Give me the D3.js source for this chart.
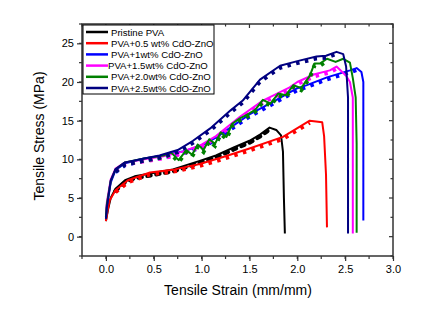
<!DOCTYPE html>
<html>
<head>
<meta charset="utf-8">
<script src="https://cdn.jsdelivr.net/npm/d3@7"></script>
<style>
  body { margin: 0; background: #fff; }
  svg text { font-family: "Liberation Sans", Arial, sans-serif; }
</style>
</head>
<body>
<div id="chart"></div>
<script>
// legend / series names
var seriesNames = ["Pristine PVA", "PVA+0.5 wt% CdO-ZnO", "PVA+1wt% CdO-ZnO",
                   "PVA+1.5wt% CdO-ZnO", "PVA+2.0wt% CdO-ZnO", "PVA+2.5wt% CdO-ZnO"];
var seriesColors = ["#000000", "#ff0000", "#0000ff", "#ff00ff", "#008000", "#000080"];

// strain / stress
var strainPristine = [0, 0.02, 0.05, 0.1, 0.2, 0.3, 0.48, 0.7, 0.98, 1.15, 1.33, 1.5, 1.61, 1.71, 1.78, 1.83, 1.85, 1.86, 1.87];
var stressPristine = [2.0, 3.4, 5.0, 6.2, 7.3, 7.8, 8.2, 8.7, 9.8, 10.5, 11.5, 12.4, 13.2, 14.1, 13.8, 13.1, 11.0, 5.0, 0.4];

var strain05 = [0, 0.02, 0.04, 0.1, 0.23, 0.46, 0.72, 0.98, 1.25, 1.5, 1.85, 2.13, 2.26, 2.28, 2.30, 2.31];
var stress05 = [2.0, 3.5, 4.7, 6.0, 7.3, 8.3, 8.7, 9.4, 10.4, 11.4, 12.9, 15.0, 14.8, 13.0, 8.0, 1.2];

var strain10 = [0, 0.01, 0.05, 0.1, 0.2, 0.4, 0.6, 0.8, 1.0, 1.15, 1.3, 1.5, 1.74, 2.0, 2.1, 2.31, 2.55, 2.62, 2.67, 2.69, 2.69];
var stress10 = [2.5, 4.0, 7.0, 8.6, 9.5, 10.1, 10.5, 11.0, 11.8, 12.8, 14.1, 15.8, 17.4, 19.2, 19.6, 20.6, 21.5, 21.8, 21.3, 20.0, 2.1];

var strain15 = [0, 0.01, 0.05, 0.1, 0.2, 0.4, 0.6, 0.8, 1.0, 1.15, 1.3, 1.4, 1.64, 1.92, 2.0, 2.18, 2.34, 2.41, 2.51, 2.55, 2.58, 2.58];
var stress15 = [3.0, 4.5, 7.4, 8.8, 9.6, 10.0, 10.4, 11.0, 11.9, 13.0, 14.5, 15.5, 17.6, 19.3, 20.0, 21.0, 21.5, 22.0, 20.8, 20.0, 18.0, 0.4];

var strain20 = [0, 0.01, 0.05, 0.1, 0.2, 0.4, 0.6, 0.68, 0.76, 0.84, 0.9, 0.96, 1.02, 1.08, 1.14, 1.2, 1.26, 1.32,
                1.4, 1.48, 1.56, 1.64, 1.72, 1.8, 1.88, 1.96, 2.04, 2.13, 2.18, 2.24, 2.31, 2.4, 2.48, 2.55, 2.58, 2.61, 2.62, 2.62];
var stress20 = [2.6, 4.2, 7.2, 8.7, 9.6, 10.1, 10.5, 10.9, 9.9, 11.2, 10.6, 11.9, 11.2, 12.6, 12.0, 13.5, 12.9, 14.6,
                15.3, 15.8, 16.4, 17.7, 17.2, 18.5, 18.3, 19.6, 19.2, 20.8, 22.4, 22.4, 23.0, 22.6, 23.0, 22.5, 20.5, 18.0, 12.0, 0.5];

var strain25 = [0, 0.01, 0.05, 0.1, 0.2, 0.4, 0.56, 0.75, 0.91, 1.09, 1.3, 1.43, 1.61, 1.82, 2.0, 2.2, 2.3, 2.41, 2.48, 2.51, 2.53, 2.53];
var stress25 = [2.3, 3.8, 7.2, 8.7, 9.6, 10.1, 10.5, 11.2, 12.4, 14.0, 16.3, 17.6, 20.3, 22.1, 22.7, 23.3, 23.4, 23.9, 23.6, 22.0, 18.0, 0.4];

var allStrain = [strainPristine, strain05, strain10, strain15, strain20, strain25];
var allStress = [stressPristine, stress05, stress10, stress15, stress20, stress25];

var xTicks = [0, 0.5, 1.0, 1.5, 2.0, 2.5, 3.0];
var yTicks = [0, 5, 10, 15, 20, 25];

function render() {
    var width = 426, height = 313;
    var pLeft = 82, pRight = 393, pTop = 24, pBottom = 256;

    var svg = d3.select("#chart").append("svg")
        .attr("width", width)
        .attr("height", height);

    var x = d3.scaleLinear().domain([-0.25, 3.0]).range([pLeft, pRight]);
    var y = d3.scaleLinear().domain([-2.5, 27.5]).range([pBottom, pTop]);

    //frame
    svg.append("rect")
        .attr("x", pLeft).attr("y", pTop)
        .attr("width", pRight - pLeft).attr("height", pBottom - pTop)
        .style("fill", "none").style("stroke", "#333").style("stroke-width", 1.5);

    // major + minor ticks
    var xMinor = d3.range(-0.25, 3.01, 0.25);
    var yMinor = d3.range(-2.5, 27.51, 2.5);

    var bottomAxis = d3.axisBottom(x).tickValues(xTicks).tickFormat(d3.format(".1f")).tickSize(5).tickPadding(4);
    var leftAxis = d3.axisLeft(y).tickValues(yTicks).tickFormat(d3.format("d")).tickSize(5).tickPadding(3);

    var gx = svg.append("g").attr("transform", "translate(0," + pBottom + ")").call(bottomAxis);
    var gy = svg.append("g").attr("transform", "translate(" + pLeft + ",0)").call(leftAxis);
    [gx, gy].forEach(function(g){
        g.select(".domain").remove();
        g.selectAll("line").style("stroke", "#333").style("stroke-width", 1.2);
        g.selectAll("text").style("font-size", "11px").style("fill", "#000")
            .style("font-family", "'Liberation Sans', Arial, sans-serif");
    });

    // minor outward ticks
    svg.append("g").selectAll("line").data(xMinor).enter().append("line")
        .attr("x1", function(d){ return x(d); }).attr("x2", function(d){ return x(d); })
        .attr("y1", pBottom).attr("y2", pBottom + 3)
        .style("stroke", "#333").style("stroke-width", 1.2);
    svg.append("g").selectAll("line").data(yMinor).enter().append("line")
        .attr("y1", function(d){ return y(d); }).attr("y2", function(d){ return y(d); })
        .attr("x1", pLeft).attr("x2", pLeft - 3)
        .style("stroke", "#333").style("stroke-width", 1.2);

    // mirrored inward ticks on top / right
    svg.append("g").selectAll("line").data(xMinor).enter().append("line")
        .attr("x1", function(d){ return x(d); }).attr("x2", function(d){ return x(d); })
        .attr("y1", pTop).attr("y2", function(d){ return pTop + (xTicks.indexOf(+d.toFixed(2)) >= 0 ? 4 : 2.5); })
        .style("stroke", "#333").style("stroke-width", 1.2);
    svg.append("g").selectAll("line").data(yMinor).enter().append("line")
        .attr("y1", function(d){ return y(d); }).attr("y2", function(d){ return y(d); })
        .attr("x1", pRight).attr("x2", function(d){ return pRight - (yTicks.indexOf(d) >= 0 ? 4 : 2.5); })
        .style("stroke", "#333").style("stroke-width", 1.2);

    // axis titles
    svg.append("text")
        .attr("x", 238).attr("y", 295)
        .attr("text-anchor", "middle")
        .style("font-size", "14px")
        .text("Tensile Strain (mm/mm)");

    svg.append("text")
        .attr("transform", "translate(44,136) rotate(-90)")
        .attr("text-anchor", "middle")
        .style("font-size", "14px")
        .text("Tensile Stress (MPa)");

    var line = d3.line()
        .x(function(d){ return x(d[0]); })
        .y(function(d){ return y(d[1]); });

    var plot = svg.append("g");

    allStrain.forEach(function(xs, i){
        var pts = xs.map(function(v, j){ return [v, allStress[i][j]]; });
        // the "symbols": stubby dashes hanging under the line on the rising part
        var peak = d3.maxIndex(pts, function(d){ return d[1]; });
        var rising = pts.slice(3, peak + 1);
        plot.append("path")
            .datum(rising)
            .attr("d", line)
            .attr("transform", "translate(0,2)")
            .style("fill", "none")
            .style("stroke", seriesColors[i])
            .style("stroke-width", 4)
            .style("stroke-dasharray", "3.5,5.5")
            .style("stroke-linecap", i == 0 ? "round" : "butt");

        plot.append("path")
            .datum(pts)
            .attr("d", line)
            .style("fill", "none")
            .style("stroke", seriesColors[i])
            .style("stroke-width", 2)
            .style("stroke-linejoin", "round");
    });

    /////////////key//////////////
    var legend = svg.append("g");
    legend.append("rect")
        .attr("x", 83).attr("y", 25)
        .attr("width", 131).attr("height", 69)
        .style("fill", "white").style("stroke", "#000").style("stroke-width", 1);

    var rows = legend.selectAll(".row")
        .data(seriesNames)
        .enter().append("g")
        .attr("class", "row")
        .attr("transform", function(d, i){ return "translate(0," + (32 + i * 11.2) + ")"; });

    rows.append("line")
        .attr("x1", 86).attr("x2", 108)
        .style("stroke", function(d, i){ return seriesColors[i]; })
        .style("stroke-width", 2.5);

    rows.append("text")
        .attr("x", function(d, i){ return i == 3 ? 108 : 111; })
        .attr("y", 3.6)
        .style("font-size", "9.6px")
        .text(function(d){ return d; });
}

render();
</script>
</body>
</html>
